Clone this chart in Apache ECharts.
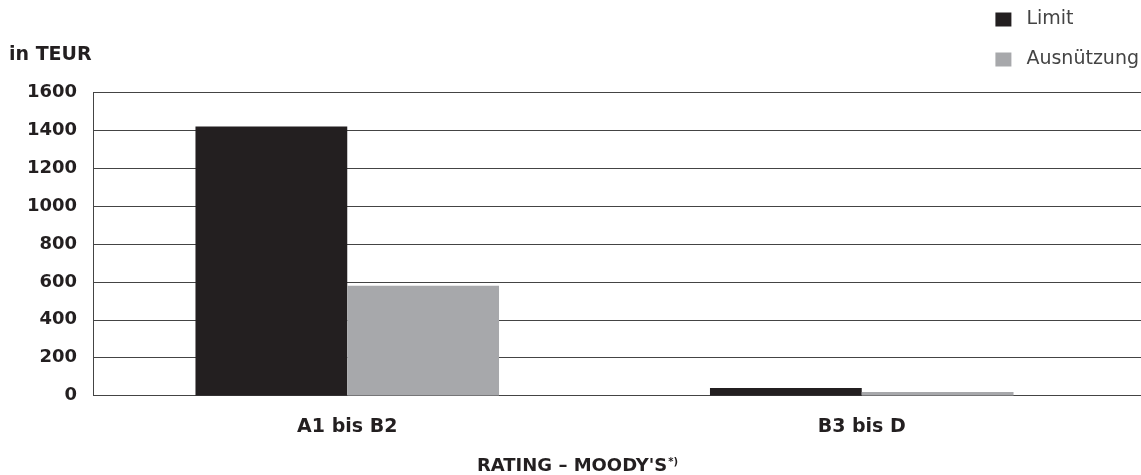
<!DOCTYPE html>
<html>
<head>
<meta charset="utf-8">
<script src="https://cdn.jsdelivr.net/npm/echarts@6/dist/echarts.min.js"></script>
<style>
  html, body { margin: 0; padding: 0; background: #fff; }
  #chart { width: 1141px; height: 475px; }
</style>
</head>
<body>
<div id="chart"></div>
<script>
  // data
  var categories = ['A1 bis B2', 'B3 bis D'];
  var limitValues = [1420, 40];
  var usageValues = [580, 18];
  var seriesNames = ['Limit', 'Ausnützung'];
  var yMin = 0, yMax = 1600, yStep = 200;

  var FONT = 'DejaVu Sans';
  var INK = '#231f20';

  var chart = echarts.init(document.getElementById('chart'));
  chart.setOption({
    backgroundColor: '#fff',
    animation: false,
    title: {
      text: 'in TEUR',
      left: 9,
      top: 46,
      padding: 0,
      textStyle: { fontFamily: FONT, fontWeight: 'bold', fontSize: 19, color: INK }
    },
    legend: {
      data: seriesNames,
      orient: 'vertical',
      right: 2,
      top: 10,
      padding: 0,
      icon: 'rect',
      itemWidth: 16,
      itemHeight: 14,
      itemGap: 21,
      textStyle: { fontFamily: FONT, fontSize: 19, color: '#444', padding: [0, 0, 0, 10] }
    },
    grid: [
      // grid lines / y labels
      { left: 93, right: 0, top: 92.5, bottom: 79.5, outerBoundsMode: 'none', containLabel: false },
      // bars / category labels
      { left: 90, right: 22, top: 92.5, bottom: 79.5, outerBoundsMode: 'none', containLabel: false }
    ],
    xAxis: [{
      gridIndex: 0,
      type: 'category',
      data: categories,
      show: false
    }, {
      gridIndex: 1,
      type: 'category',
      data: categories,
      axisLine: { show: false },
      axisTick: { show: false },
      axisLabel: {
        margin: 22,
        fontFamily: FONT, fontWeight: 'bold', fontSize: 19, color: INK
      },
      name: "RATING – MOODY'S{s|*)}",
      nameLocation: 'middle',
      nameGap: 62,
      nameTextStyle: {
        fontFamily: FONT, fontWeight: 'bold', fontSize: 18, color: INK,
        padding: [0, 54, 0, 0],
        rich: { s: { fontFamily: FONT, fontSize: 10, color: INK, verticalAlign: 'top', padding: [0, 0, 8, 1] } }
      }
    }],
    yAxis: [{
      gridIndex: 0,
      type: 'value',
      min: yMin, max: yMax, interval: yStep,
      axisLine: { show: true, lineStyle: { color: '#444', width: 1 } },
      axisTick: { show: false },
      splitLine: { lineStyle: { color: '#444', width: 1 } },
      axisLabel: {
        margin: 16,
        formatter: function (v) { return String(v); },
        fontFamily: FONT, fontWeight: 'bold', fontSize: 18, color: INK
      }
    }, {
      gridIndex: 1,
      type: 'value',
      min: yMin, max: yMax, interval: yStep,
      show: false
    }],
    series: [{
      name: seriesNames[0],
      type: 'bar',
      xAxisIndex: 1, yAxisIndex: 1,
      data: limitValues,
      barGap: '0%',
      barCategoryGap: '41%',
      itemStyle: { color: INK }
    }, {
      name: seriesNames[1],
      type: 'bar',
      xAxisIndex: 1, yAxisIndex: 1,
      data: usageValues,
      itemStyle: { color: '#a7a8ab' }
    }]
  });
</script>
</body>
</html>
